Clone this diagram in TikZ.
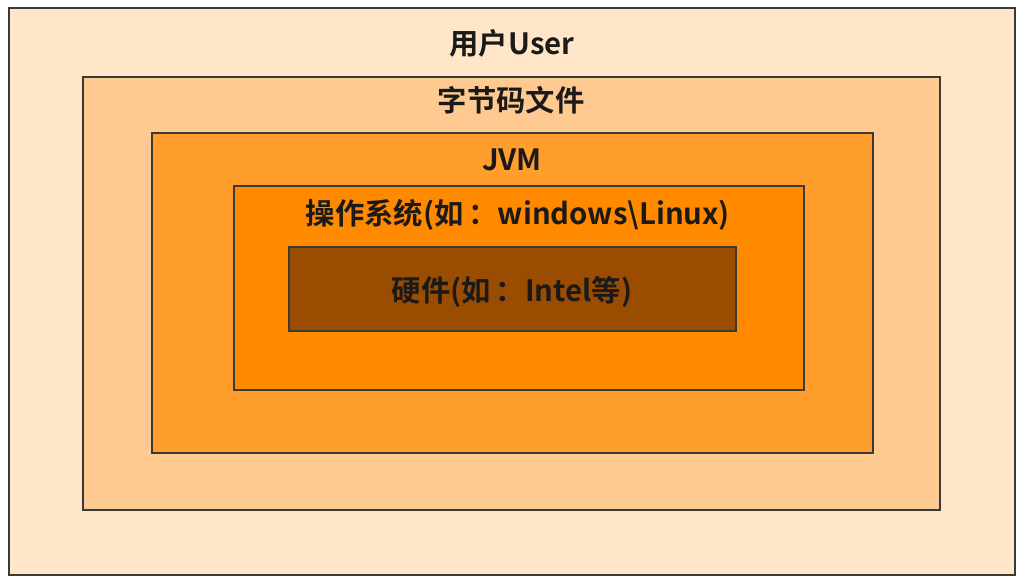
\documentclass[tikz,border=0pt]{standalone}
\usepackage{fontspec}
\setmainfont{Noto Sans CJK SC}[BoldFont={* Bold}]
\definecolor{c1}{HTML}{FFE6C9}
\definecolor{c2}{HTML}{FFCA92}
\definecolor{c3}{HTML}{FF9E2C}
\definecolor{c4}{HTML}{FF8A00}
\definecolor{c5}{HTML}{9A4C00}
\definecolor{edge}{HTML}{3C3A38}
\definecolor{txt}{HTML}{1C1A18}
\tikzset{
  layer/.style={draw=edge, line width=1.9pt},
  lbl/.style={font=\bfseries\fontsize{22}{26}\selectfont, text=txt, inner sep=0pt},
}
\begin{document}
\begin{tikzpicture}[x=0.75pt,y=-0.75pt]
\useasboundingbox (0,0) rectangle (1025,583);
\fill[white] (0,0) rectangle (1025,583);
\filldraw[layer, fill=c1] (9,8) rectangle (1015,575);
\filldraw[layer, fill=c2] (83,77) rectangle (940,510);
\filldraw[layer, fill=c3] (152,133) rectangle (873,453);
\filldraw[layer, fill=c4] (234,186) rectangle (804,390);
\filldraw[layer, fill=c5] (289,247) rectangle (736,331);
\node[lbl] (user) at (512,43) {用户User};
\node[lbl] (bytecode) at (511,100) {字节码文件};
\node[lbl] (jvm) at (512,160) {JVM};
\node[lbl] (os) at (518,215) {操作系统(如\,：windows\textbackslash Linux)};
\node[lbl] (hw) at (512,292) {硬件(如\,：Intel等)};
\end{tikzpicture}
\end{document}
